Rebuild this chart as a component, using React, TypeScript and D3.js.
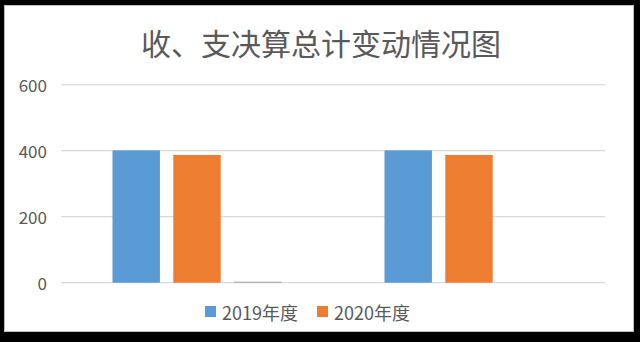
import React from "react";
import * as d3 from "d3";

const title = "收、支决算总计变动情况图";
const categories = ["收入总计", "支出总计"];
const seriesNames = ["2019年度", "2020年度", ""];
const values2019 = [401, 401];
const values2020 = [387, 387];
const valuesOther = [3, 0];
const seriesColors = ["#5B9BD5", "#ED7D31", "#A5A5A5"];
const yTicks = [0, 200, 400, 600];
const legendItems = ["2019年度", "2020年度"];

const W = 640;
const H = 342;
const FONT = "'Noto Sans CJK SC', 'Liberation Sans', sans-serif";

export default function App() {
  const plot = { left: 61, right: 605, top: 84.7, bottom: 282.7 };
  const y = d3.scaleLinear().domain([0, 600]).range([plot.bottom, plot.top]);
  const x0 = d3.scaleBand<string>().domain(categories).range([plot.left, plot.right]).paddingInner(0).paddingOuter(0);
  const x1 = d3
    .scaleBand<string>()
    .domain(["0", "1", "2"])
    .range([0, x0.bandwidth()])
    .paddingInner(0.22)
    .paddingOuter(0.847);
  const allSeries = [values2019, values2020, valuesOther];

  return (
    <div style={{ position: "fixed", left: 0, top: 0, width: W, height: H }}>
      <svg width={W} height={H} style={{ display: "block" }}>
        <rect x={0} y={0} width={W} height={H} fill="#000" />
        <rect x={4.5} y={5.5} width={629} height={326} fill="#fff" stroke="#BFBFBF" strokeWidth={1} />
        <text
          x={321}
          y={42}
          textAnchor="middle"
          dominantBaseline="central"
          fontFamily={FONT}
          fontSize={30}
          fill="#595959"
        >
          {title}
        </text>
        {yTicks.map((t) => (
          <g key={t}>
            <line x1={plot.left} x2={plot.right} y1={y(t)} y2={y(t)} stroke="#D9D9D9" strokeWidth={1.3} />
            <text
              x={47}
              y={y(t)}
              textAnchor="end"
              dominantBaseline="central"
              fontFamily={FONT}
              fontSize={17}
              fill="#595959"
            >
              {t}
            </text>
          </g>
        ))}
        {categories.map((c, ci) => (
          <g key={c} transform={`translate(${x0(c)},0)`}>
            {allSeries.map((vals, si) => {
              const v = vals[ci];
              if (v <= 0) return null;
              return (
                <rect
                  key={si}
                  x={x1(String(si))}
                  y={y(v)}
                  width={x1.bandwidth()}
                  height={y(0) - y(v)}
                  fill={seriesColors[si]}
                >
                  <title>{seriesNames[si]}</title>
                </rect>
              );
            })}
          </g>
        ))}
        {legendItems.map((name, i) => {
          const lx = i === 0 ? 205 : 317;
          return (
            <g key={name}>
              <rect x={lx} y={306} width={11} height={11} fill={seriesColors[i]} />
              <text
                x={lx + 17}
                y={312}
                dominantBaseline="central"
                fontFamily={FONT}
                fontSize={18}
                fill="#595959"
              >
                {name}
              </text>
            </g>
          );
        })}
      </svg>
    </div>
  );
}
